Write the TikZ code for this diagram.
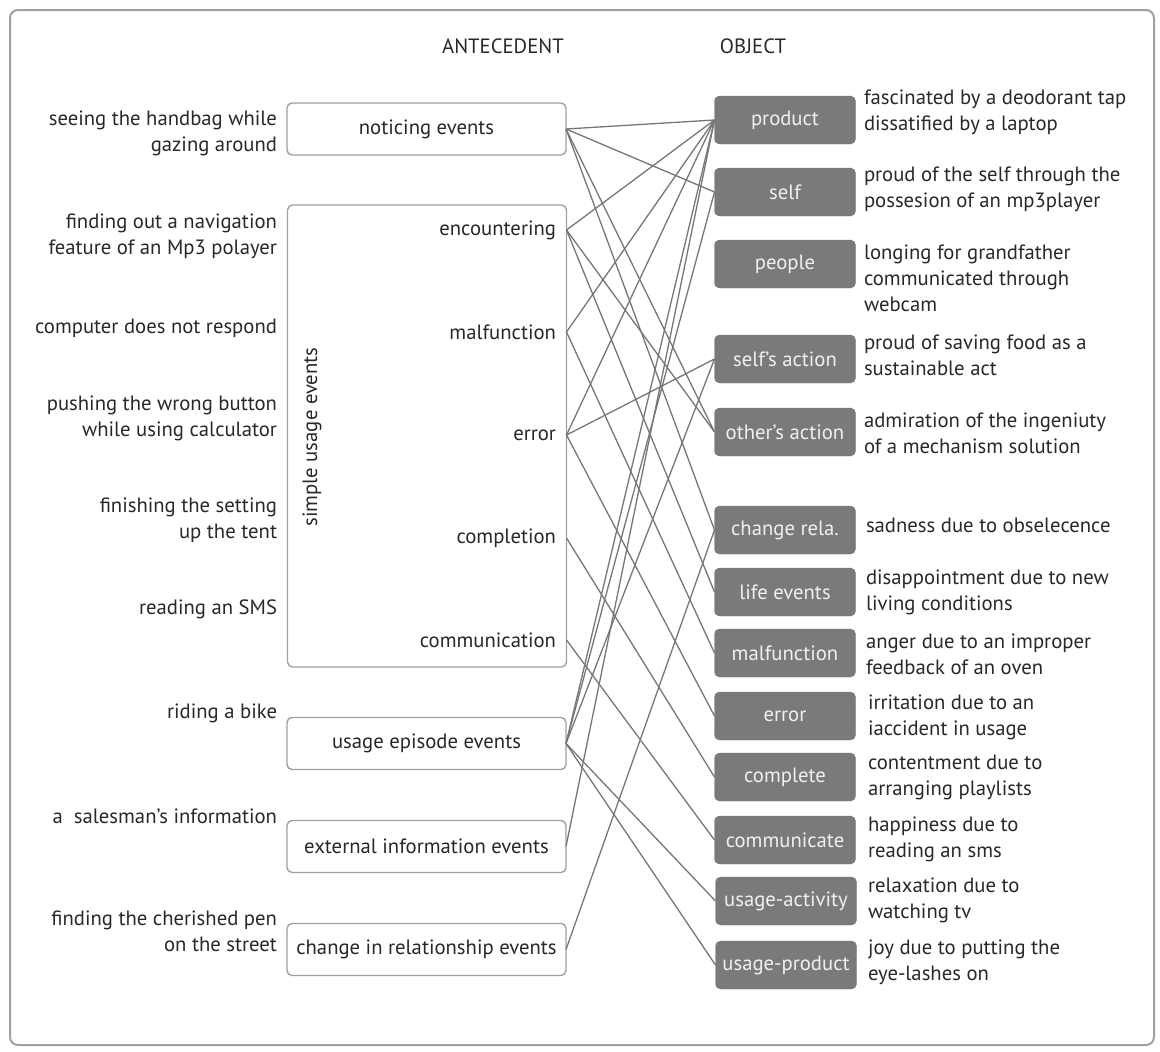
\documentclass[tikz,border=0pt]{standalone}
\usepackage{fontspec}
\setmainfont{PT Sans}
\definecolor{objgray}{RGB}{122,122,122}
\definecolor{linegray}{RGB}{118,118,118}
\definecolor{framegray}{RGB}{160,160,160}
\definecolor{txt}{RGB}{40,40,40}
\begin{document}
\begin{tikzpicture}[x=1pt,y=-1pt,
  every node/.style={inner sep=0pt, outer sep=0pt},
  fnt/.style={font=\fontsize{20.7}{26}\selectfont},
  llbl/.style={fnt, text=txt, align=right, anchor=east},
  rlbl/.style={fnt, text=txt, align=left, anchor=west},
  abox/.style={fnt, text=txt, draw=framegray, line width=1.4pt, rounded corners=5pt, fill=white, minimum width=279pt, minimum height=52pt},
  obox/.style={fnt, fill=objgray, draw=objgray, rounded corners=5pt, text=white!88!gray, minimum width=141pt, minimum height=48pt},
  conn/.style={draw=linegray, line width=1.3pt},
  hdr/.style={fnt, text=txt}]
\useasboundingbox (0,0) rectangle (1160,1052);
\draw[framegray, line width=2pt, rounded corners=8pt] (10,10) rectangle (1154,1045);

% headers
\node[hdr] (hA) at (503,46) {ANTECEDENT};
\node[hdr] (hO) at (753,46) {OBJECT};

% antecedent boxes
\node[abox] (aN) at (426.5,129) {noticing events};
\node[abox, minimum height=462pt] (su) at (427,436) {};
\node[fnt, text=txt, rotate=90] (suT) at (312,437) {simple usage events};
\node[llbl] (lEnc) at (556,230) {encountering};
\node[llbl] (lMal) at (556,332) {malfunction};
\node[llbl] (lErr) at (556,435) {error};
\node[llbl] (lCom) at (556,538) {completion};
\node[llbl] (lCmm) at (556,640) {communication};
\coordinate (aEnc) at (su.east |- lEnc);
\coordinate (aMal) at (su.east |- lMal);
\coordinate (aErr) at (su.east |- lErr);
\coordinate (aCom) at (su.east |- lCom);
\coordinate (aCmm) at (su.east |- lCmm);
\node[abox] (aUE) at (426.5,743.5) {usage episode events};
\node[abox] (aEI) at (426.5,846.5) {external information events};
\node[abox] (aCR) at (426.5,949.5) {change in relationship events};

% left examples
\node[llbl] (e1) at (277,133.5) {seeing the handbag while\\gazing around};
\node[llbl] (e2) at (277,236.5) {finding out a navigation\\feature of an Mp3 polayer};
\node[llbl] (e3) at (277,328) {computer does not respond};
\node[llbl] (e4) at (277,418) {pushing the wrong button\\while using calculator};
\node[llbl] (e5) at (277,520) {finishing the setting\\up the tent};
\node[llbl] (e6) at (277,609) {reading an SMS};
\node[llbl] (e7) at (277,713) {riding a bike};
\node[llbl] (e8) at (277,816) {a\ \ salesman's information};
\node[llbl] (e9) at (277,931) {finding the cherished pen\\on the street};

% object boxes
\node[obox] (oProd) at (785,120) {product};
\node[obox] (oSelf) at (785,192) {self};
\node[obox] (oPeople) at (785,264) {people};
\node[obox] (oSA) at (785,359) {self's action};
\node[obox] (oOA) at (785,432) {other's action};
\node[obox] (oCR) at (785,530) {change rela.};
\node[obox] (oLE) at (785,592) {life events};
\node[obox] (oMal) at (785,653) {malfunction};
\node[obox] (oErr) at (785,716) {error};
\node[obox] (oComp) at (785,777) {complete};
\node[obox] (oComm) at (785,840) {communicate};
\node[obox] (oUA) at (786,901) {usage-activity};
\node[obox] (oUP) at (786,965) {usage-product};

% right examples
\node[rlbl] (r1) at (864,112) {fascinated by a deodorant tap\\dissatified by a laptop};
\node[rlbl] (r2) at (864,189) {proud of the self through the\\possesion of an mp3player};
\node[rlbl] (r3) at (864,278.5) {longing for grandfather\\communicated through\\webcam};
\node[rlbl] (r4) at (864,355.5) {proud of saving food as a\\sustainable act};
\node[rlbl] (r5) at (864,433) {admiration of the ingeniuty\\of a mechanism solution};
\node[rlbl] (r6) at (866,525) {sadness due to obselecence};
\node[rlbl] (r7) at (866,592.5) {disappointment due to new\\living conditions};
\node[rlbl] (r8) at (866,654) {anger due to an improper\\feedback of an oven};
\node[rlbl] (r9) at (868,717) {irritation due to an\\iaccident in usage};
\node[rlbl] (r10) at (868,777) {contentment due to\\arranging playlists};
\node[rlbl] (r11) at (868,839.5) {happiness due to\\reading an sms};
\node[rlbl] (r12) at (868,900.5) {relaxation due to\\watching tv};
\node[rlbl] (r13) at (868,962) {joy due to putting the\\eye-lashes on};

% connectors
\foreach \a/\b in {aN.east/oProd.west, aN.east/oSelf.west, aN.east/oOA.west, aN.east/oCR.west,
  aEnc/oProd.west, aEnc/oOA.west, aEnc/oLE.west,
  aMal/oProd.west, aMal/oMal.west,
  aErr/oProd.west, aErr/oSA.west, aErr/oErr.west,
  aCom/oComp.west, aCmm/oComm.west,
  aUE.east/oProd.west, aUE.east/oSelf.west, aUE.east/oSA.west, aUE.east/oUA.west, aUE.east/oUP.west,
  aEI.east/oProd.west, aCR.east/oCR.west}
  \draw[conn] (\a) -- (\b);
\end{tikzpicture}
\end{document}
